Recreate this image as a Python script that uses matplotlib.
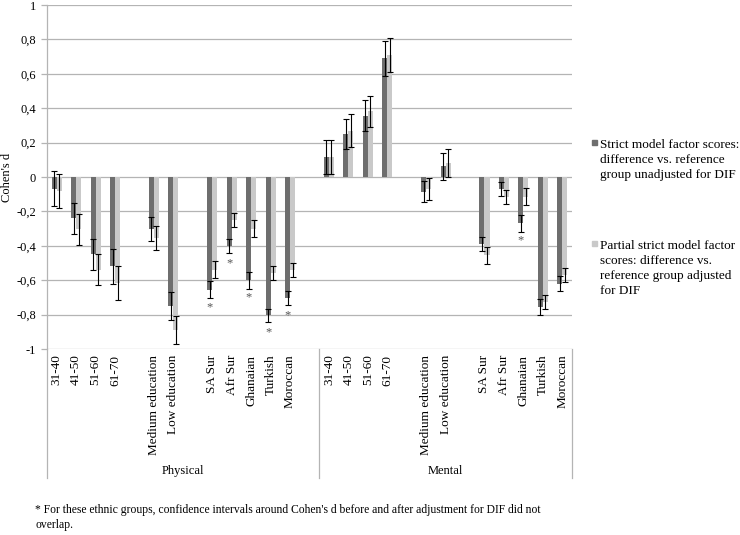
import numpy as np
import matplotlib
matplotlib.use("Agg")
import matplotlib.pyplot as plt
from matplotlib.patches import Rectangle

plt.rcParams['font.family'] = ['Liberation Serif', 'DejaVu Serif']

# categories (the same in both groups)
groups = ["Physical", "Mental"]
cats = ["31-40", "41-50", "51-60", "61-70",
        "Medium education", "Low education",
        "SA Sur", "Afr Sur", "Ghanaian", "Turkish", "Moroccan"]
# slot of each category inside its group (gaps are empty slots)
cat_slot = [0, 1, 2, 3, 5, 6, 8, 9, 10, 11, 12]
group_start = [0, 14]

# Cohen's d
phys_strict = [-0.068, -0.24, -0.45, -0.52, -0.30, -0.75, -0.655, -0.40, -0.60, -0.805, -0.705]
phys_strict_err = [0.10, 0.09, 0.09, 0.10, 0.07, 0.08, 0.05, 0.04, 0.05, 0.04, 0.04]
phys_partial = [-0.08, -0.305, -0.54, -0.615, -0.355, -0.89, -0.54, -0.25, -0.30, -0.56, -0.54]
phys_partial_err = [0.10, 0.09, 0.09, 0.10, 0.07, 0.08, 0.05, 0.04, 0.05, 0.04, 0.04]
phys_star = [0, 0, 0, 0, 0, 0, 1, 1, 1, 1, 1]

ment_strict = [0.115, 0.25, 0.355, 0.69, -0.085, 0.062, -0.39, -0.07, -0.27, -0.755, -0.62]
ment_strict_err = [0.10, 0.09, 0.09, 0.10, 0.06, 0.08, 0.04, 0.04, 0.05, 0.045, 0.045]
ment_partial = [0.115, 0.27, 0.383, 0.711, -0.07, 0.082, -0.455, -0.115, -0.115, -0.725, -0.57]
ment_partial_err = [0.10, 0.094, 0.09, 0.10, 0.065, 0.08, 0.05, 0.04, 0.05, 0.04, 0.04]
ment_star = [0, 0, 0, 0, 0, 0, 0, 0, 1, 0, 0]

yticks = [1, 0.8, 0.6, 0.4, 0.2, 0, -0.2, -0.4, -0.6, -0.8, -1]
ytick_labels = ["1", "0,8", "0,6", "0,4", "0,2", "0", "-0,2", "-0,4", "-0,6", "-0,8", "-1"]

legend_labels = ["Strict model factor scores:\ndifference vs. reference\ngroup unadjusted for DIF",
                 "Partial strict model factor\nscores: difference vs.\nreference group adjusted\nfor DIF"]
footnote = ("* For these ethnic groups, confidence intervals around Cohen's d before and after "
            "adjustment for DIF did not\noverlap.")

dark = '#6e6e6e'
light = '#c9c9c9'
grid_c = '#b4b4b4'
nslots = 27
w = 0.26

fig = plt.figure(figsize=(7.4, 5.35), dpi=100)
ax = fig.add_axes([47/740, 1 - 349/535, 525/740, 344/535])

strict = [phys_strict, ment_strict]
strict_err = [phys_strict_err, ment_strict_err]
partial = [phys_partial, ment_partial]
partial_err = [phys_partial_err, ment_partial_err]
stars = [phys_star, ment_star]

ticks, tick_labels = [], []
for g in range(2):
    x = np.array(cat_slot) + group_start[g]
    ax.bar(x - w/2, strict[g], w, color=dark, zorder=2)
    ax.bar(x + w/2, partial[g], w, color=light, zorder=2)
    ax.errorbar(x - w/2, strict[g], yerr=strict_err[g], fmt='none', ecolor='black',
                elinewidth=0.8, capsize=2.3, capthick=0.8, zorder=3)
    ax.errorbar(x + w/2, partial[g], yerr=partial_err[g], fmt='none', ecolor='black',
                elinewidth=0.8, capsize=2.3, capthick=0.8, zorder=3)
    for xi, v, s in zip(x, strict[g], stars[g]):
        if s:
            ax.text(xi - w/2, v - 0.1, '*', ha='center', va='center', fontsize=9, color='#555555')
    ticks += list(x)
    tick_labels += cats

ax.set_xlim(-0.5, nslots - 0.5)
ax.set_ylim(-1, 1)
ax.set_yticks(yticks)
ax.set_yticklabels(ytick_labels, fontsize=9)
ax.set_xticks(ticks)
ax.set_xticklabels(tick_labels, rotation=90, fontsize=9.5, va='top')
ax.tick_params(axis='x', length=0, pad=4)
ax.tick_params(axis='y', length=4, color=grid_c, width=0.9, pad=4)
ax.grid(axis='y', color=grid_c, linewidth=0.9, zorder=0)
ax.set_axisbelow(True)
for side in ['top', 'right', 'bottom']:
    ax.spines[side].set_visible(False)
ax.spines['left'].set_color(grid_c)
ax.spines['left'].set_linewidth(0.9)

ax.set_ylabel("Cohen's d", fontsize=9, labelpad=2)

# multi-level category box below the axis
trans = ax.get_xaxis_transform()
for xs in [-0.5, 13.5, 26.5]:
    ax.plot([xs, xs], [0, -0.375], color=grid_c, lw=0.9, transform=trans, clip_on=False)
ax.text(6.5, -0.355, groups[0], transform=trans, ha='center', va='center', fontsize=9)
ax.text(20, -0.355, groups[1], transform=trans, ha='center', va='center', fontsize=9)

# legend
leg_y = [1 - 139/535, 1 - 240/535]
for c, lab, y in zip([dark, light], legend_labels, leg_y):
    fig.patches.append(Rectangle((592/740, y - 6/535), 5/740, 5/535, transform=fig.transFigure,
                                 color=c, figure=fig))
    fig.text(600/740, y, lab, ha='left', va='top', fontsize=9.5, linespacing=1.35)

fig.text(35/740, 1 - 504/535, footnote, ha='left', va='top', fontsize=8.4, linespacing=1.3)

fig.savefig('out.png', dpi=100)
